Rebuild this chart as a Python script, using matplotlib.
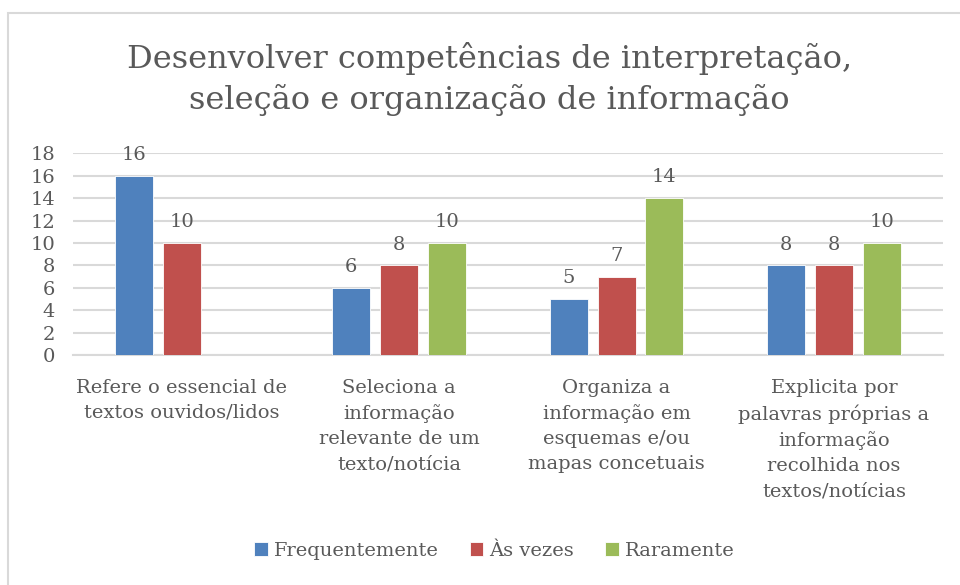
import numpy as np
import matplotlib.pyplot as plt
from matplotlib.patches import Rectangle

categories = ['Refere o essencial de\ntextos ouvidos/lidos',
              'Seleciona a\ninformação\nrelevante de um\ntexto/notícia',
              'Organiza a\ninformação em\nesquemas e/ou\nmapas concetuais',
              'Explicita por\npalavras próprias a\ninformação\nrecolhida nos\ntextos/notícias']
frequentemente = [16, 6, 5, 8]
as_vezes = [10, 8, 7, 8]
raramente = [0, 10, 14, 10]  # first group has no green bar
series_names = ['Frequentemente', 'Às vezes', 'Raramente']
colors = ['#4F81BD', '#C0504D', '#9BBB59']

plt.rcParams['font.family'] = ['DejaVu Serif']
txt = '#595959'

fig = plt.figure(figsize=(9.6, 5.85), dpi=100)
ax = fig.add_axes([0.076, 0.393, 0.906, 0.345])

x = np.arange(len(categories))
w = 0.175
step = 0.22
for i, (vals, name, c) in enumerate(zip([frequentemente, as_vezes, raramente], series_names, colors)):
    xs = x + (i - 1) * step
    shown = [v if v > 0 else np.nan for v in vals]
    ax.bar(xs, shown, width=w, color=c, label=name, zorder=3,
           edgecolor='white', linewidth=0.6)
    for xx, v in zip(xs, vals):
        if v > 0:
            ax.text(xx, v + 1.05, str(v), ha='center', va='bottom', fontsize=14, color=txt)

ax.set_xlim(-0.5, 3.5)
ax.set_ylim(0, 18)
ax.set_yticks(range(0, 19, 2))
ax.yaxis.grid(True, color='#D9D9D9', linewidth=1.5, zorder=0)
ax.set_axisbelow(True)
for s in ax.spines.values():
    s.set_visible(False)
ax.spines['bottom'].set_visible(True)
ax.spines['bottom'].set_color('#D9D9D9')
ax.spines['bottom'].set_linewidth(1.5)
ax.tick_params(axis='both', length=0, labelsize=14, colors=txt)
ax.tick_params(axis='y', pad=13)
ax.set_xticks(x)
ax.set_xticklabels(categories, va='top', ha='center', linespacing=1.5)
ax.tick_params(axis='x', pad=17)

fig.text(0.51, 0.865, 'Desenvolver competências de interpretação,\nseleção e organização de informação',
         ha='center', va='center', fontsize=23, color=txt, linespacing=1.38)

fig.legend(loc='center', bbox_to_anchor=(0.515, 0.058), ncol=3, frameon=False,
           fontsize=14, labelcolor=txt, handlelength=0.7, handleheight=0.7,
           handletextpad=0.3, columnspacing=1.6)

fig.patches.append(Rectangle((8 / 960, -0.1), 1.2, 1 - 13 / 585 + 0.1, transform=fig.transFigure,
                             fill=False, edgecolor='#D9D9D9', linewidth=1.5))

fig.savefig('out.png', dpi=100)
